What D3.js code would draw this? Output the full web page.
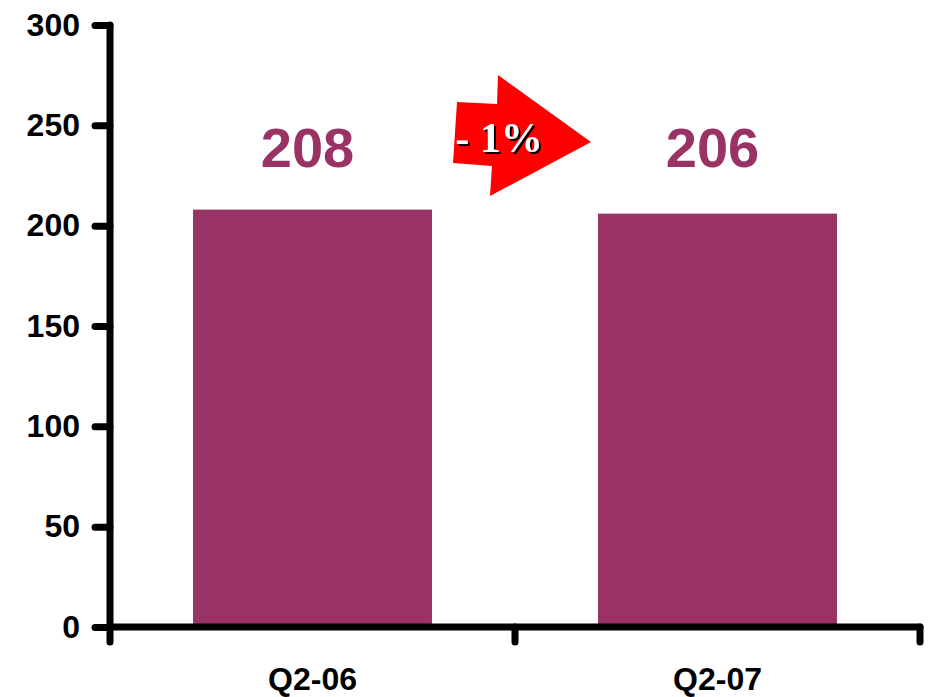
<!DOCTYPE html>
<html>
<head>
<meta charset="utf-8">
<script src="https://cdn.jsdelivr.net/npm/d3@7"></script>
<style>
  body { margin: 0; background: #fff; }
  svg { display: block; }
</style>
</head>
<body>
<div id="chart"></div>
<script>
var categories = ["Q2-06", "Q2-07"];
var values = [208, 206];
var yTicks = [0, 50, 100, 150, 200, 250, 300];
var changeLabel = "- 1%";

var svgWidth = 932, svgHeight = 697;
var x0 = 110, x1 = 920, yBottom = 627, yTop = 25;

var svg = d3.select("#chart").append("svg")
  .attr("width", svgWidth)
  .attr("height", svgHeight);

// drop shadow for the arrow label
svg.append("defs").append("filter")
  .attr("id", "shadow")
  .append("feDropShadow")
  .attr("dx", 2).attr("dy", 2).attr("stdDeviation", 0)
  .attr("flood-color", "#000").attr("flood-opacity", 1);

var x = d3.scaleBand()
  .domain(categories)
  .range([x0, x1])
  .paddingInner(0.41)
  .paddingOuter(0.205);

var y = d3.scaleLinear()
  .domain([0, 300])
  .range([yBottom, yTop]);

// bars
svg.selectAll("rect.bar")
  .data(values)
  .enter().append("rect")
  .attr("class", "bar")
  .attr("x", (d, i) => x(categories[i]))
  .attr("width", x.bandwidth())
  .attr("y", d => y(d))
  .attr("height", d => y(0) - y(d))
  .attr("fill", "#993366");

// value labels
svg.selectAll("text.val")
  .data(values)
  .enter().append("text")
  .attr("x", (d, i) => x(categories[i]) + x.bandwidth() / 2 - 5)
  .attr("y", 167)
  .attr("text-anchor", "middle")
  .attr("font-family", "Liberation Sans, Arial, sans-serif")
  .attr("font-weight", "bold")
  .attr("font-size", "56px")
  .attr("fill", "#993366")
  .text(d => d);

// y axis
var yAxis = svg.append("g")
  .attr("transform", `translate(${x0},0)`)
  .call(d3.axisLeft(y).tickValues(yTicks).tickSize(15).tickPadding(15));
yAxis.select(".domain").remove();
yAxis.selectAll("line")
  .attr("stroke", "#000").attr("stroke-width", 7).attr("stroke-linecap", "round");
yAxis.selectAll("text")
  .attr("font-family", "Liberation Sans, Arial, sans-serif")
  .attr("font-weight", "bold")
  .attr("font-size", "32px")
  .attr("fill", "#000");

// x axis
var boundaries = [x0, (x0 + x1) / 2, x1];
var xAxis = svg.append("g");
xAxis.selectAll("line.tick")
  .data(boundaries)
  .enter().append("line")
  .attr("x1", d => d).attr("x2", d => d)
  .attr("y1", yBottom).attr("y2", yBottom + 15)
  .attr("stroke", "#000").attr("stroke-width", 7).attr("stroke-linecap", "round");
xAxis.append("line")
  .attr("x1", x0).attr("x2", x1)
  .attr("y1", yBottom).attr("y2", yBottom)
  .attr("stroke", "#000").attr("stroke-width", 7).attr("stroke-linecap", "round");
svg.append("line")
  .attr("x1", x0).attr("x2", x0)
  .attr("y1", y(300)).attr("y2", yBottom)
  .attr("stroke", "#000").attr("stroke-width", 7).attr("stroke-linecap", "round");

xAxis.selectAll("text")
  .data(categories)
  .enter().append("text")
  .attr("x", d => x(d) + x.bandwidth() / 2)
  .attr("y", 690)
  .attr("text-anchor", "middle")
  .attr("font-family", "Liberation Sans, Arial, sans-serif")
  .attr("font-weight", "bold")
  .attr("font-size", "32px")
  .text(d => d);

// change arrow
var arrow = svg.append("g");
arrow.append("polygon")
  .attr("points", "457,102 497,104 498,75 591,142 490,196 492,166 453,163")
  .attr("fill", "#ff0000");
arrow.append("text")
  .attr("x", 499).attr("y", 152)
  .attr("text-anchor", "middle")
  .attr("font-family", "Liberation Serif, Times New Roman, serif")
  .attr("font-weight", "bold")
  .attr("font-size", "42px")
  .attr("fill", "#fff")
  .attr("filter", "url(#shadow)")
  .text(changeLabel);
</script>
</body>
</html>
